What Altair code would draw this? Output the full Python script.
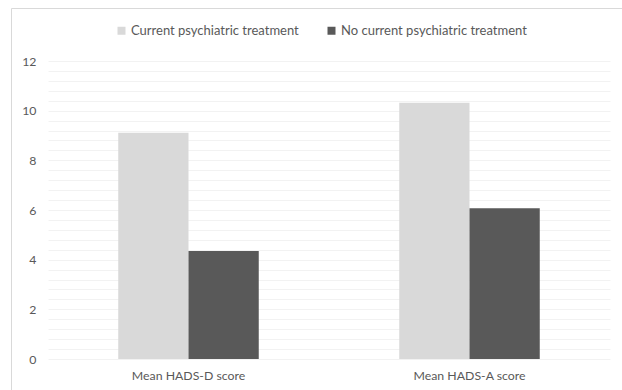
import altair as alt
import pandas as pd

measures = ["Mean HADS-D score", "Mean HADS-A score"]
groups = ["Current psychiatric treatment", "No current psychiatric treatment"]
current = [9.11, 10.32]
no_current = [4.35, 6.07]
colors = ["#d9d9d9", "#595959"]
major_ticks = [0, 2, 4, 6, 8, 10, 12]
minor_ticks = [round(i * 0.4, 1) for i in range(31)]

rows = []
for m, c, n in zip(measures, current, no_current):
    rows.append({"measure": m, "group": groups[0], "value": c})
    rows.append({"measure": m, "group": groups[1], "value": n})
df = pd.DataFrame(rows)

FONT = "Lato"
LBL = "#595959"

x_enc = alt.X("measure:N", sort=measures,
              scale=alt.Scale(paddingInner=0.5, paddingOuter=0.25),
              axis=alt.Axis(title=None, labelAngle=0, ticks=False, domain=False,
                            labelFont=FONT, labelFontSize=12.3, labelColor=LBL,
                            labelPadding=10))
y_scale = alt.Scale(domain=[0, 12], nice=False)

minor = alt.Chart(df).mark_bar(opacity=0).encode(
    x=x_enc,
    y=alt.Y("value:Q", scale=y_scale,
            axis=alt.Axis(orient="left", values=minor_ticks, labels=False, ticks=False,
                          domain=False, title=None, gridColor="#f2f2f2", gridWidth=1)),
)

bars = alt.Chart(df).mark_bar().encode(
    x=x_enc,
    xOffset=alt.XOffset("group:N", sort=groups, scale=alt.Scale(paddingInner=0, paddingOuter=0)),
    y=alt.Y("value:Q", scale=y_scale,
            axis=alt.Axis(orient="left", values=major_ticks, ticks=False, domain=False,
                          title=None, gridColor="#d9d9d9", gridWidth=1.5,
                          labelFont=FONT, labelFontSize=12.3, labelColor=LBL, labelPadding=12)),
    color=alt.Color("group:N", sort=groups,
                    scale=alt.Scale(domain=groups, range=colors),
                    legend=alt.Legend(title=None, orient="none", direction="horizontal",
                                      legendX=67, legendY=-37, symbolType="square",
                                      symbolSize=64, symbolStrokeWidth=0, symbolOpacity=1,
                                      labelFont=FONT, labelFontSize=13, labelColor=LBL,
                                      labelLimit=0, labelOffset=3, columnPadding=26,
                                      padding=0)),
)

one = pd.DataFrame({"k": [0]})
border_left = alt.Chart(one).mark_rule(color="#d9d9d9", strokeWidth=1).encode(
    x=alt.value(-36.5), y=alt.value(-52.5), y2=alt.value(340))
border_top = alt.Chart(one).mark_rule(color="#d9d9d9", strokeWidth=1).encode(
    x=alt.value(-36.5), x2=alt.value(600), y=alt.value(-52.5))

chart = alt.layer(minor, bars, border_left, border_top).resolve_axis(
    y="independent"
).properties(
    width=562, height=298,
    autosize=alt.AutoSizeParams(type="none"),
    padding={"left": 48, "top": 61, "right": 12, "bottom": 31},
    background="white",
).configure_view(stroke=None)

chart.save("out.html", embed_options={"renderer": "svg", "actions": False})
